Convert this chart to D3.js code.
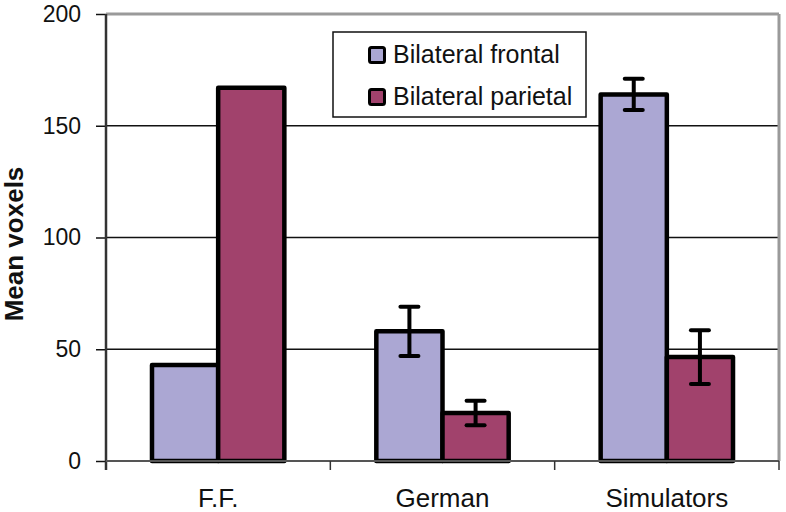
<!DOCTYPE html>
<html>
<head>
<meta charset="utf-8">
<script src="https://cdn.jsdelivr.net/npm/d3@7"></script>
<style>
  body { margin: 0; background: #fff; }
  text { font-family: "Liberation Sans", Arial, sans-serif; }
</style>
</head>
<body>
<svg id="chart"></svg>
<script>
const categories = ['F.F.', 'German', 'Simulators'];
const seriesNames = ['Bilateral frontal', 'Bilateral parietal'];
const frontal = [43, 58, 164];
const parietal = [167, 21.5, 46.5];
const frontalErr = [null, 11, 7];
const parietalErr = [null, 5.5, 12];
const yTicks = [0, 50, 100, 150, 200];
const colors = ['#aba7d3', '#a1426c'];

const width = 786, height = 512;
const margin = { top: 14, right: 7, bottom: 51, left: 106 };
const w = width - margin.left - margin.right;
const h = height - margin.top - margin.bottom;

const svg = d3.select('#chart')
  .attr('width', width)
  .attr('height', height);

const g = svg.append('g')
  .attr('transform', `translate(${margin.left}, ${margin.top})`);

const x = d3.scaleBand()
  .domain(categories)
  .range([0, w])
  .paddingInner(0)
  .paddingOuter(0);

const inner = d3.scaleBand()
  .domain(seriesNames)
  .range([x.bandwidth() * 0.205, x.bandwidth() * 0.795]);

const y = d3.scaleLinear()
  .domain([0, 200])
  .range([h, 0]);

// gridlines
g.selectAll('.grid')
  .data(yTicks.filter(t => t > 0 && t < 200))
  .enter()
  .append('line')
  .attr('x1', 0)
  .attr('x2', w)
  .attr('y1', d => y(d))
  .attr('y2', d => y(d))
  .attr('stroke', '#111')
  .attr('stroke-width', 1.5);

// plot frame (top and right in gray)
g.append('line').attr('x1', 0).attr('x2', w).attr('y1', 0).attr('y2', 0)
  .attr('stroke', '#9a9a9a').attr('stroke-width', 3);
g.append('line').attr('x1', w).attr('x2', w).attr('y1', 0).attr('y2', h)
  .attr('stroke', '#9a9a9a').attr('stroke-width', 3);

// rows of data
const rows = categories.map((c, i) => [
  { cat: c, s: seriesNames[0], v: frontal[i], e: frontalErr[i], color: colors[0] },
  { cat: c, s: seriesNames[1], v: parietal[i], e: parietalErr[i], color: colors[1] }
]).flat();

// bars
g.selectAll('.bar')
  .data(rows)
  .enter()
  .append('rect')
  .attr('class', 'bar')
  .attr('x', d => x(d.cat) + inner(d.s))
  .attr('y', d => y(d.v))
  .attr('width', inner.bandwidth())
  .attr('height', d => h - y(d.v))
  .attr('fill', d => d.color)
  .attr('stroke', '#000')
  .attr('stroke-width', 4.5)
  .attr('stroke-linejoin', 'round');

// error bars
const errRows = rows.filter(d => d.e != null);
const capW = 9;
const eg = g.selectAll('.err')
  .data(errRows)
  .enter()
  .append('g')
  .attr('class', 'err')
  .attr('transform', d => `translate(${x(d.cat) + inner(d.s) + inner.bandwidth() / 2}, 0)`);

eg.append('line')
  .attr('y1', d => y(d.v + d.e))
  .attr('y2', d => y(d.v - d.e))
  .attr('stroke', '#000').attr('stroke-width', 4);
eg.append('line')
  .attr('x1', -capW).attr('x2', capW)
  .attr('y1', d => y(d.v + d.e)).attr('y2', d => y(d.v + d.e))
  .attr('stroke', '#000').attr('stroke-width', 4).attr('stroke-linecap', 'round');
eg.append('line')
  .attr('x1', -capW).attr('x2', capW)
  .attr('y1', d => y(d.v - d.e)).attr('y2', d => y(d.v - d.e))
  .attr('stroke', '#000').attr('stroke-width', 4).attr('stroke-linecap', 'round');

// y axis
const yAxis = d3.axisLeft(y)
  .tickValues(yTicks)
  .tickSize(10)
  .tickPadding(15);

const ya = g.append('g').call(yAxis);
ya.select('.domain').remove();
ya.selectAll('.tick line').attr('stroke', '#111').attr('stroke-width', 1.5);
ya.selectAll('.tick text').attr('font-size', 23).attr('fill', '#111');
g.append('line').attr('x1', 0).attr('x2', 0).attr('y1', 0).attr('y2', h + 9)
  .attr('stroke', '#333').attr('stroke-width', 2.5);

// x axis
g.append('line').attr('x1', 0).attr('x2', w).attr('y1', h).attr('y2', h)
  .attr('stroke', '#555').attr('stroke-width', 2);
g.selectAll('.xtick')
  .data(categories.slice(1).concat(['end']))
  .enter()
  .append('line')
  .attr('x1', d => d === 'end' ? w : x(d))
  .attr('x2', d => d === 'end' ? w : x(d))
  .attr('y1', h).attr('y2', h + 9)
  .attr('stroke', '#333').attr('stroke-width', 1.5);

g.selectAll('.xlabel')
  .data(categories)
  .enter()
  .append('text')
  .attr('x', d => x(d) + x.bandwidth() / 2)
  .attr('y', h + 46)
  .attr('text-anchor', 'middle')
  .attr('font-size', 26)
  .attr('fill', '#111')
  .text(d => d);

// y axis title
svg.append('text')
  .attr('transform', 'translate(23, 244) rotate(-90)')
  .attr('text-anchor', 'middle')
  .attr('font-size', 26)
  .attr('font-weight', 'bold')
  .attr('fill', '#111')
  .text('Mean voxels');

// legend
const legend = svg.append('g').attr('transform', 'translate(333, 32)');
legend.append('rect')
  .attr('width', 253).attr('height', 85)
  .attr('fill', '#fff')
  .attr('stroke', '#111').attr('stroke-width', 1.5);

const li = legend.selectAll('.li')
  .data(seriesNames)
  .enter()
  .append('g')
  .attr('transform', (d, i) => `translate(0, ${23 + i * 42})`);

li.append('rect')
  .attr('x', 36.5).attr('y', -7.5)
  .attr('width', 15).attr('height', 15)
  .attr('rx', 2)
  .attr('fill', (d, i) => colors[i])
  .attr('stroke', '#000').attr('stroke-width', 3);

li.append('text')
  .attr('x', 60)
  .attr('y', 8)
  .attr('font-size', 25)
  .attr('fill', '#111')
  .text(d => d);
</script>
</body>
</html>
